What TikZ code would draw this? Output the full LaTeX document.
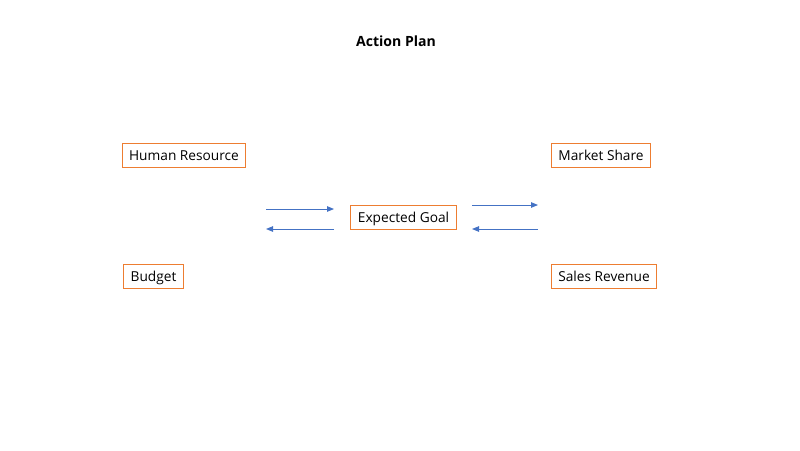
\documentclass[tikz,border=0pt]{standalone}
\usepackage{fontspec}
\setmainfont{Open Sans}
\usepackage{tikz}
\usetikzlibrary{arrows.meta,positioning}
\definecolor{boxorange}{RGB}{237,125,49}
\definecolor{arrowblue}{RGB}{68,114,196}

\begin{document}
\begin{tikzpicture}[
  x=0.02cm, y=-0.02cm,
  item/.style={rectangle, draw=boxorange, line width=0.6pt, inner xsep=0.14cm, inner ysep=0.05cm, text height=1.5ex, text depth=0.4ex, minimum height=0.48cm, font=\fontsize{7.8}{9}\selectfont},
  flow/.style={-{Triangle[length=1.4mm, width=1.1mm]}, draw=arrowblue, line width=0.5pt},
]
  \useasboundingbox (0,0) rectangle (800,450);
  \node[font=\fontsize{8}{10}\selectfont\bfseries] (title) at (396,41) {Action Plan};

  \node[item] (human) at (184,155.5) {Human Resource};
  \node[item] (budget) at (153.5,276.5) {Budget};
  \node[item] (goal) at (403.5,217.5) {Expected Goal};
  \node[item] (market) at (601,155.5) {Market Share};
  \node[item] (sales) at (604,276.5) {Sales Revenue};

  % free arrows beside the goal
  \coordinate (l1) at (266,209);
  \coordinate (l2) at (334,209);
  \coordinate (l3) at (334,229);
  \coordinate (l4) at (266,229);
  \coordinate (r1) at (472,205);
  \coordinate (r2) at (538,205);
  \coordinate (r3) at (538,229);
  \coordinate (r4) at (472,229);

  \draw[flow] (l1) -- (l2);
  \draw[flow] (l3) -- (l4);
  \draw[flow] (r1) -- (r2);
  \draw[flow] (r3) -- (r4);
\end{tikzpicture}
\end{document}
